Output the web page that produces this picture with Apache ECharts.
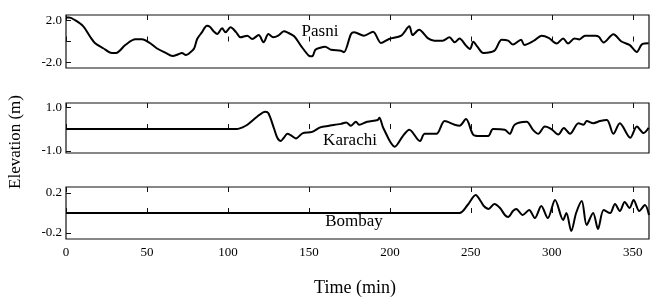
<!DOCTYPE html>
<html>
<head>
<meta charset="utf-8">
<script src="https://cdn.jsdelivr.net/npm/echarts@6/dist/echarts.min.js"></script>
<style>
  html, body { margin: 0; padding: 0; background: #fff; }
  #main { width: 660px; height: 300px; }
</style>
</head>
<body>
<div id="main"></div>
<script>
// station names (panel labels)
var stations = ['Pasni', 'Karachi', 'Bombay'];
// time ticks (min)
var timeTicks = [0, 50, 100, 150, 200, 250, 300, 350];

// [time (min), elevation (m)]
var pasni = [
  [0, 2.3], [2, 2.3], [5.6, 2.05], [10.7, 1.45], [14.9, 0.46], [18, -0.17], [23, -0.65],
  [28.3, -1.1], [31, -1.1], [36.6, -0.34], [42.8, 0.21], [46.9, 0.21], [52, -0.17],
  [56, -0.65], [61, -1.05], [66, -1.4], [69, -1.25], [71.6, -1.1], [74, -1.3], [76, -1.15],
  [79, -0.7], [81, 0.24], [84, 0.9], [87, 1.52], [89, 1.4], [91, 1.0], [93.4, 0.72],
  [96.4, 1.27], [98.5, 0.88], [101.6, 1.36], [105, 0.9], [107.8, 0.4], [111.9, 0.56],
  [115, 0.24], [119, 0.62], [122, -0.08], [125, 0.72], [128, 0.4], [131, 0.56],
  [134.6, 0.98], [136.6, 0.88], [140.9, 0.5], [145, -0.4], [150, -1.37], [152, -1.43],
  [154, -0.79], [157, -0.6], [160, -0.5], [163.6, -0.79], [169.8, -0.88], [171.6, -1.04],
  [176, 0.72], [178, 0.88], [184, 0.56], [189.6, 0.94], [194.5, -0.14], [199.5, 0.24],
  [207, 0.56], [212, 1.46], [214, 0.62], [218, 1.13], [223.6, 0.3], [227.5, 0.08],
  [232.6, 0.08], [236.8, 0.4], [240, -0.08], [243, 0.3], [247, -0.4], [249.5, -0.72],
  [251.5, -0.02], [254, -0.5], [257.7, -1.1], [264.6, -0.88], [269, 0.17], [273, 0.08],
  [276, -0.3], [281, 0.17], [283, -0.33], [289, 0.08], [293.7, 0.55], [298, 0.35],
  [303, -0.2], [307, 0.3], [310, -0.2], [314, 0.3], [317, 0.2], [320.5, 0.56], [327, 0.56],
  [329, 0.45], [332, -0.1], [338, 0.7], [343, 0.0], [348, -0.33], [352.5, -1.0],
  [355.6, -0.27], [359.8, -0.17]
];
var karachi = [
  [0, 0], [105.7, 0], [109, 0.08], [112, 0.2], [118, 0.57], [123, 0.8], [125, 0.73],
  [128.4, 0.04], [130.5, -0.4], [132.6, -0.55], [134.5, -0.4], [136.7, -0.22], [138.7, -0.28],
  [142, -0.43], [146, -0.2], [152, -0.13], [157, 0.08], [162.5, 0.15], [166, 0.2],
  [169.8, 0.24], [173, 0.3], [176, 0.15], [179, 0.34], [181, 0.2], [186, 0.34],
  [192.5, 0.42], [193.5, 0.52], [196, 0.04], [203, -0.81], [208, -0.32], [212, -0.03],
  [218.5, -0.55], [221.5, -0.22], [228.7, -0.22], [233.8, 0.37], [240, 0.2], [243, 0.15],
  [247, 0.46], [251.4, -0.25], [255.6, -0.32], [260.7, -0.32], [263.7, 0], [270.9, -0.03],
  [274, -0.22], [277, 0.2], [284.4, 0.34], [288.5, -0.05], [291.6, -0.22], [295.7, 0.12],
  [299.7, 0], [304, -0.25], [307.4, 0.05], [311.2, -0.22], [316.4, 0.27], [319.5, 0.2],
  [321.6, 0.37], [325.6, 0.27], [329.8, 0.37], [334, 0.42], [338, -0.22], [342, 0.27],
  [348.4, -0.4], [352.5, 0.12], [356.7, -0.18], [359.8, 0.06]
];
var bombay = [
  [0, 0], [243, 0], [248, 0.08], [253, 0.18], [256, 0.12], [258, 0.07], [261, 0.04],
  [264.5, 0.09], [268, 0.05], [271, -0.02], [273, -0.04], [276, 0.02], [278, 0.04],
  [282, -0.02], [286, 0.03], [289.5, -0.05], [293.5, 0.07], [297.5, -0.05], [302, 0.13],
  [307, -0.07], [309, 0.0], [312, -0.18], [315, 0.0], [318.5, 0.12], [321.5, -0.12],
  [325.5, 0.0], [328.5, -0.16], [332, 0.03], [336, 0.0], [339, 0.09], [342, 0.02],
  [345, 0.11], [348, 0.05], [350.5, 0.13], [354, 0.02], [357.5, 0.08], [360, -0.02]
];

// y axis ranges and labelled ticks per panel
var yMin = [-2.55, -1.1, -0.26];
var yMax = [2.55, 1.2, 0.26];
var yTicks = [[-2, 0, 2], [-1, 0, 1], [-0.2, 0.2]];
var yLabels = [[-2, 2], [-1, 1], [-0.2, 0.2]];

var font = 'Liberation Serif';
var seriesData = [pasni, karachi, bombay];
var grids = [
  {left: 66, right: 11, top: 15, height: 53},
  {left: 66, right: 11, top: 103, height: 50},
  {left: 66, right: 11, top: 187, height: 52}
];

var xAxes = [], yAxes = [], series = [];
for (var i = 0; i < 3; i++) {
  grids[i].show = true;
  grids[i].borderColor = '#111';
  grids[i].borderWidth = 1.2;
  // bottom axis (labels only on last panel)
  xAxes.push({
    type: 'value', gridIndex: i, min: 0, max: 360, position: 'bottom',
    axisLine: {show: false},
    axisTick: {inside: true, length: 5, customValues: timeTicks, lineStyle: {color: '#111'}},
    axisLabel: {show: i === 2, customValues: timeTicks, margin: 7,
      fontFamily: font, fontSize: 13, color: '#000'},
    splitLine: {show: false}
  });
  // top axis, ticks only
  xAxes.push({
    type: 'value', gridIndex: i, min: 0, max: 360, position: 'top',
    axisLine: {show: false},
    axisTick: {inside: true, length: 5, customValues: timeTicks, lineStyle: {color: '#111'}},
    axisLabel: {show: false},
    splitLine: {show: false}
  });
  yAxes.push({
    type: 'value', gridIndex: i, min: yMin[i], max: yMax[i],
    axisLine: {show: false},
    axisTick: {inside: true, length: 5, customValues: yTicks[i], lineStyle: {color: '#111'}},
    axisLabel: {customValues: yLabels[i], margin: 4, fontFamily: font, fontSize: 13, color: '#000',
      formatter: function (v) { return v.toFixed(1); }},
    splitLine: {show: false}
  });
  series.push({
    type: 'line', xAxisIndex: i * 2, yAxisIndex: i,
    data: seriesData[i], showSymbol: false, smooth: 0.3,
    lineStyle: {color: '#000', width: 2}
  });
}

var txt = function (x, y, s, size, rot) {
  return {
    type: 'text', x: x, y: y, rotation: rot || 0,
    style: {text: s, font: size + 'px "' + font + '"', fill: '#000',
      textAlign: 'center', textVerticalAlign: 'middle'}
  };
};

var myChart = echarts.init(document.getElementById('main'));
myChart.setOption({
  animation: false,
  grid: grids,
  xAxis: xAxes,
  yAxis: yAxes,
  series: series,
  graphic: [
    txt(320, 32, stations[0], 17),
    txt(350, 141, stations[1], 17),
    txt(354, 222, stations[2], 17),
    txt(16, 142, 'Elevation (m)', 17, Math.PI / 2),
    txt(355, 288, 'Time (min)', 18)
  ]
});
</script>
</body>
</html>
